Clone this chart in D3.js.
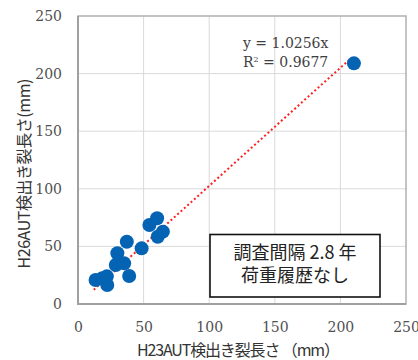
<!DOCTYPE html>
<html>
<head>
<meta charset="utf-8">
<script src="https://cdn.jsdelivr.net/npm/d3@7/dist/d3.min.js"></script>
<style>
  html, body { margin: 0; padding: 0; background: #fff; }
  svg { display: block; }
</style>
</head>
<body>
<svg id="chart" width="418" height="360"></svg>
<script>
// Crack lengths detected by AUT in H23 (x) and H26 (y), in mm
const h23Length = [13.4, 18.5, 22.3, 22.0, 28.8, 30.0, 35.2, 37.2, 39.0, 48.5, 54.4, 60.3, 60.8, 64.7, 210.3];
const h26Length = [20.8, 22.3, 16.5, 24.0, 33.9, 44.0, 35.3, 54.0, 24.3, 48.3, 68.6, 74.4, 58.4, 62.8, 208.9];

const tickValues = [0, 50, 100, 150, 200, 250];
const slope = 1.0256;
const rSquared = 0.9677;
const trendRange = [12, 208];

const xTitle = "H23AUT検出き裂長さ （mm）";
const yTitle = "H26AUT検出き裂長さ(mm)";
const noteLines = ["調査間隔 2.8 年", "荷重履歴なし"];

const serif = "'DejaVu Serif', 'Liberation Serif', serif";
const gothic = "'Noto Sans CJK JP', 'Noto Sans', sans-serif";

const svg = d3.select("#chart");
const plot = { left: 78, right: 406, top: 16, bottom: 304 };

const x = d3.scaleLinear().domain([0, 250]).range([plot.left, plot.right]);
const y = d3.scaleLinear().domain([0, 250]).range([plot.bottom, plot.top]);

// gridlines
const grid = svg.append("g");
grid.selectAll("line.h").data(tickValues.slice(1, -1)).join("line")
  .attr("x1", plot.left).attr("x2", plot.right)
  .attr("y1", d => y(d)).attr("y2", d => y(d))
  .attr("stroke", "#d9d9d9").attr("stroke-width", 1);
grid.selectAll("line.v").data(tickValues.slice(1, -1)).join("line")
  .attr("y1", plot.top).attr("y2", plot.bottom)
  .attr("x1", d => x(d)).attr("x2", d => x(d))
  .attr("stroke", "#d9d9d9").attr("stroke-width", 1);

// plot-area frame
svg.append("rect")
  .attr("x", plot.left).attr("y", plot.top)
  .attr("width", plot.right - plot.left).attr("height", plot.bottom - plot.top)
  .attr("fill", "none").attr("stroke", "#b0b0b0").attr("stroke-width", 1.5);
// axis lines, slightly darker than the frame
svg.append("path")
  .attr("d", `M${plot.left},${plot.top}V${plot.bottom}H${plot.right}`)
  .attr("fill", "none").attr("stroke", "#a0a0a0").attr("stroke-width", 2);

// axes (labels only)
const xAxis = svg.append("g")
  .attr("transform", `translate(0,${plot.bottom})`)
  .call(d3.axisBottom(x).tickValues(tickValues).tickSize(0).tickPadding(18));
const yAxis = svg.append("g")
  .attr("transform", `translate(${plot.left},0)`)
  .call(d3.axisLeft(y).tickValues(tickValues).tickSize(0).tickPadding(16));
[xAxis, yAxis].forEach(a => {
  a.attr("font-family", serif).attr("font-size", 14);
  a.select(".domain").remove();
  a.selectAll("text").attr("fill", "#505050");
});

// trendline
svg.append("line")
  .attr("x1", x(trendRange[0])).attr("y1", y(slope * trendRange[0]))
  .attr("x2", x(trendRange[1])).attr("y2", y(slope * trendRange[1]))
  .attr("stroke", "#ff2020").attr("stroke-width", 2)
  .attr("stroke-dasharray", "2,2.5");

// markers
svg.append("g").selectAll("circle")
  .data(h23Length.map((v, i) => [v, h26Length[i]]))
  .join("circle")
  .attr("cx", d => x(d[0])).attr("cy", d => y(d[1]))
  .attr("r", 7).attr("fill", "#0563b3");

// regression equation
const eq = svg.append("text")
  .attr("font-family", serif)
  .attr("font-size", 14).attr("fill", "#404040");
eq.append("tspan").attr("x", 243).attr("y", 48).text(`y = ${slope}x`);
const r2 = eq.append("tspan").attr("x", 243).attr("y", 66.5);
r2.append("tspan").text("R");
r2.append("tspan").attr("font-size", 8).attr("dy", -5).text("2");
r2.append("tspan").attr("dy", 5).text(` = ${rSquared}`);

// annotation box
const box = { x: 210, y: 234.5, w: 170, h: 62.5 };
svg.append("rect")
  .attr("x", box.x).attr("y", box.y).attr("width", box.w).attr("height", box.h)
  .attr("fill", "#fff").attr("stroke", "#111").attr("stroke-width", 1.6);
svg.append("g").selectAll("text").data(noteLines).join("text")
  .attr("x", box.x + box.w / 2)
  .attr("y", (d, i) => 258.5 + i * 23.5)
  .attr("text-anchor", "middle")
  .attr("font-family", gothic)
  .attr("font-size", 18).attr("fill", "#222")
  .text(d => d);

// axis titles
svg.append("text")
  .attr("x", 238.5).attr("y", 356)
  .attr("text-anchor", "middle")
  .attr("font-family", gothic)
  .attr("font-size", 16).attr("fill", "#333")
  .attr("textLength", 203).attr("lengthAdjust", "spacing")
  .text(xTitle);
svg.append("text")
  .attr("transform", "translate(30,173.5) rotate(-90)")
  .attr("text-anchor", "middle")
  .attr("font-family", gothic)
  .attr("font-size", 16).attr("fill", "#333")
  .attr("textLength", 190).attr("lengthAdjust", "spacing")
  .text(yTitle);
</script>
</body>
</html>
